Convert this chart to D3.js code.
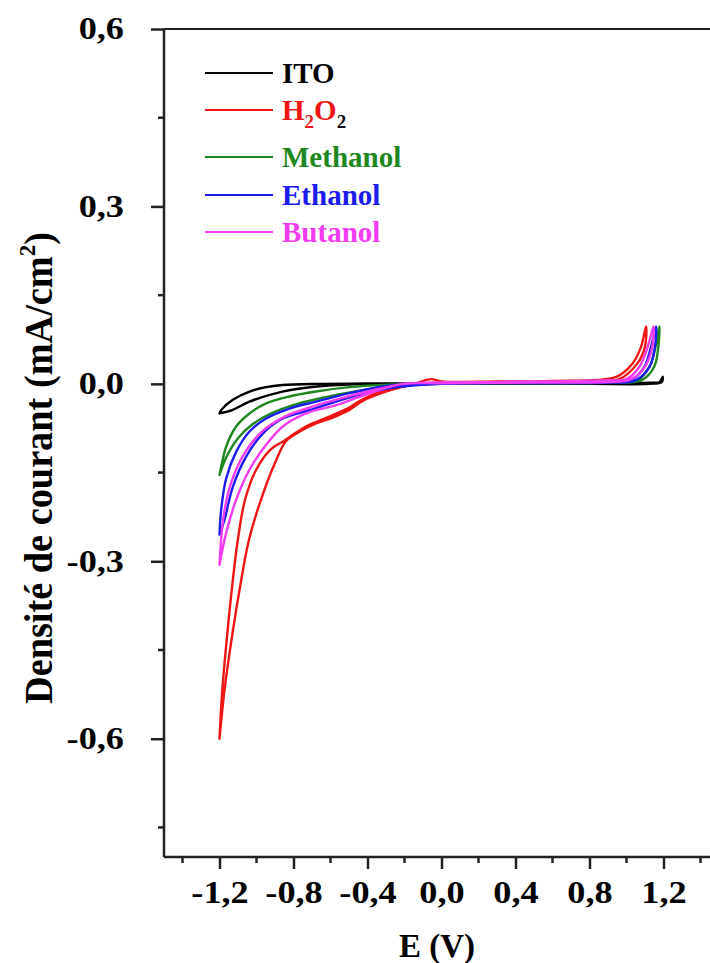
<!DOCTYPE html>
<html><head><meta charset="utf-8">
<script src="https://cdn.jsdelivr.net/npm/d3@7"></script>
<style>
html,body{margin:0;padding:0;background:#fff;}
svg{display:block;}
text{font-family:"Liberation Serif","Times New Roman",serif;font-weight:bold;}
</style></head>
<body>
<svg id="chart" width="710" height="963"></svg>
<script>
// ---- data ----
const seriesNames = ["ITO", "H2O2", "Methanol", "Ethanol", "Butanol"];
const seriesColors = ["#000000", "#f01414", "#1e871e", "#1c1cf0", "#f23cf2"];
const xTicks = [-1.2, -0.8, -0.4, 0.0, 0.4, 0.8, 1.2];
const xMinorTicks = [-1.4, -1.0, -0.6, -0.2, 0.2, 0.6, 1.0, 1.4];
const yTicks = [0.6, 0.3, 0.0, -0.3, -0.6];
const yMinorTicks = [0.45, 0.15, -0.15, -0.45, -0.75];

const ito = [[-1.2,-0.050],[-1.19,-0.044],[-1.128,-0.027],[-1.038,-0.013],[-0.948,-0.0056],[-0.86,-0.002],[-0.68,0],[-0.4,0.0005],[0,0.001],[0.4,0.001],[0.8,0.001],[1.124,0.002],[1.178,0.003],[1.196,0.012],
  [1.19,0.003],[1.12,0.0],[0.8,0.0],[0.4,0.0],[0,0.0],[-0.3,-0.0005],[-0.5,-0.001],[-0.676,-0.0045],[-0.86,-0.013],[-1.038,-0.030],[-1.128,-0.044],[-1.2,-0.050]];

const h2o2 = [[-1.2,-0.600],[-1.185,-0.518],[-1.161,-0.433],[-1.134,-0.349],[-1.101,-0.264],[-1.062,-0.196],[-1.003,-0.146],[-0.927,-0.112],[-0.850,-0.096],[-0.790,-0.083],[-0.720,-0.070],[-0.650,-0.061],[-0.588,-0.053],[-0.498,-0.040],[-0.426,-0.026],[-0.318,-0.012],[-0.210,-0.003],[-0.138,0.001],[-0.056,0.008],[0.0,0.004],[0.3,0.004],[0.6,0.005],[0.944,0.012],[1.034,0.035],[1.079,0.063],[1.106,0.097],
  [1.10,0.063],[1.06,0.035],[0.96,0.008],[0.6,0.003],[0.3,0.003],[0,0.002],[-0.14,-0.001],[-0.21,-0.005],[-0.318,-0.015],[-0.426,-0.029],[-0.498,-0.044],[-0.588,-0.057],[-0.678,-0.067],[-0.768,-0.081],[-0.841,-0.097],[-0.895,-0.130],[-0.976,-0.196],[-1.041,-0.264],[-1.092,-0.349],[-1.135,-0.433],[-1.173,-0.518],[-1.2,-0.600]];

const methanol = [[-1.2,-0.154],[-1.191,-0.140],[-1.164,-0.106],[-1.110,-0.072],[-1.038,-0.050],[-0.948,-0.033],[-0.822,-0.0214],[-0.678,-0.013],[-0.498,-0.0056],[-0.318,-0.0017],[-0.15,0],[0.2,0.002],[0.6,0.003],[0.9,0.004],[1.061,0.007],[1.124,0.029],[1.157,0.063],[1.178,0.097],
  [1.172,0.063],[1.15,0.029],[1.08,0.006],[0.9,0.002],[0.5,0.001],[0,0],[-0.25,-0.003],[-0.45,-0.012],[-0.62,-0.022],[-0.78,-0.034],[-0.92,-0.050],[-1.02,-0.068],[-1.10,-0.092],[-1.16,-0.122],[-1.2,-0.154]];

const ethanol = [[-1.2,-0.255],[-1.191,-0.213],[-1.164,-0.160],[-1.110,-0.115],[-1.038,-0.0805],[-0.948,-0.0586],[-0.822,-0.0417],[-0.678,-0.030],[-0.498,-0.0158],[-0.318,-0.0045],[-0.174,0],[0.2,0.002],[0.6,0.003],[0.9,0.005],[1.034,0.008],[1.097,0.029],[1.133,0.063],[1.160,0.097],
  [1.154,0.063],[1.125,0.029],[1.05,0.006],[0.9,0.002],[0.5,0.001],[0,0],[-0.25,-0.006],[-0.408,-0.0158],[-0.570,-0.030],[-0.714,-0.0445],[-0.858,-0.0586],[-0.966,-0.084],[-1.056,-0.123],[-1.128,-0.174],[-1.173,-0.230],[-1.2,-0.255]];

const butanol = [[-1.2,-0.306],[-1.178,-0.224],[-1.138,-0.168],[-1.066,-0.118],[-0.976,-0.0823],[-0.858,-0.057],[-0.714,-0.040],[-0.534,-0.0237],[-0.354,-0.0096],[-0.2,0],[0.2,0.003],[0.6,0.004],[0.9,0.006],[0.998,0.008],[1.070,0.029],[1.115,0.063],[1.146,0.097],
  [1.14,0.063],[1.10,0.029],[1.02,0.007],[0.9,0.003],[0.5,0.002],[0,0.001],[-0.21,0],[-0.408,-0.018],[-0.570,-0.036],[-0.732,-0.050],[-0.858,-0.072],[-0.948,-0.103],[-1.038,-0.145],[-1.110,-0.196],[-1.164,-0.252],[-1.2,-0.306]];

const seriesData = [ito, h2o2, methanol, ethanol, butanol];

// ---- layout ----
const svg = d3.select("#chart");
const x = d3.scaleLinear().domain([-1.5, 1.5]).range([164, 719]);
const y = d3.scaleLinear().domain([-0.8, 0.6]).range([857, 29]);
const fmt = d => d3.format(".1f")(d).replace(".", ",").replace("−", "-");
const stretch = 1.17;

// frame (top line)
svg.append("line").attr("x1", x(-1.5)).attr("x2", 710).attr("y1", y(0.6)).attr("y2", y(0.6))
  .attr("stroke", "#222").attr("stroke-width", 2);

// x axis
const xAxis = svg.append("g").attr("transform", `translate(0,${y(-0.8)})`)
  .call(d3.axisBottom(x).tickValues(xTicks).tickSize(12).tickPadding(10).tickFormat(fmt));
xAxis.select(".domain").attr("stroke", "#222").attr("stroke-width", 2.5).attr("d", `M${x(-1.5)},0H710`);
xAxis.selectAll(".tick line").attr("stroke", "#222").attr("stroke-width", 2.5);
xAxis.selectAll(".tick text").attr("font-size", 31).attr("fill", "#000").attr("dy", "0.78em")
  .attr("transform", `scale(${stretch},1)`)
  .style("font-family", '"Liberation Serif",serif').style("font-weight", "bold");
svg.append("g").selectAll("line").data(xMinorTicks).join("line")
  .attr("x1", d => x(d)).attr("x2", d => x(d)).attr("y1", y(-0.8)).attr("y2", y(-0.8) + 6)
  .attr("stroke", "#222").attr("stroke-width", 2.5);

// y axis
const yAxis = svg.append("g").attr("transform", `translate(${x(-1.5)},0)`)
  .call(d3.axisLeft(y).tickValues(yTicks).tickSize(13).tickPadding(25).tickFormat(fmt));
yAxis.select(".domain").attr("stroke", "#222").attr("stroke-width", 2.5).attr("d", `M0,${y(0.6)}V${y(-0.8)}`);
yAxis.selectAll(".tick line").attr("stroke", "#222").attr("stroke-width", 2.5);
yAxis.selectAll(".tick text").attr("font-size", 31).attr("fill", "#000")
  .attr("x", -40 / stretch).attr("transform", `scale(${stretch},1)`)
  .style("font-family", '"Liberation Serif",serif').style("font-weight", "bold");
svg.append("g").selectAll("line").data(yMinorTicks).join("line")
  .attr("x1", x(-1.5) - 6).attr("x2", x(-1.5)).attr("y1", d => y(d)).attr("y2", d => y(d))
  .attr("stroke", "#222").attr("stroke-width", 2.5);

// axis titles
svg.append("text").attr("x", 437).attr("y", 957).attr("text-anchor", "middle")
  .attr("font-size", 33).attr("fill", "#000").text("E (V)");
const yt = svg.append("text").attr("transform", "translate(52,468) rotate(-90)")
  .attr("text-anchor", "middle").attr("font-size", 40).attr("fill", "#000")
  .attr("textLength", 472).attr("lengthAdjust", "spacingAndGlyphs");
yt.append("tspan").text("Densité de courant (mA/cm");
yt.append("tspan").attr("font-size", 24).attr("dy", -17).text("2");
yt.append("tspan").attr("dy", 17).text(")");

// curves
const line = d3.line().x(d => x(d[0])).y(d => y(d[1])).curve(d3.curveCatmullRom.alpha(0.5));
svg.append("g").selectAll("path").data(seriesData).join("path")
  .attr("d", line).attr("fill", "none")
  .attr("stroke", (d, i) => seriesColors[i]).attr("stroke-width", 2.4)
  .attr("stroke-linejoin", "round").attr("stroke-linecap", "round");

// legend
const legendY = [73, 110, 157, 195, 232];
const lg = svg.append("g");
seriesNames.forEach((name, i) => {
  lg.append("line").attr("x1", 205).attr("x2", 273).attr("y1", legendY[i]).attr("y2", legendY[i])
    .attr("stroke", seriesColors[i]).attr("stroke-width", 2);
  const t = lg.append("text").attr("x", 282).attr("y", legendY[i] + 10).attr("font-size", 29)
    .attr("fill", seriesColors[i]);
  if (name === "H2O2") {
    t.append("tspan").text("H");
    t.append("tspan").attr("font-size", 19).attr("dy", 8).text("2");
    t.append("tspan").attr("dy", -8).text("O");
    t.append("tspan").attr("font-size", 19).attr("dy", 8).attr("fill", "#000").text("2");
  } else {
    t.text(name);
  }
});
</script>
</body></html>
